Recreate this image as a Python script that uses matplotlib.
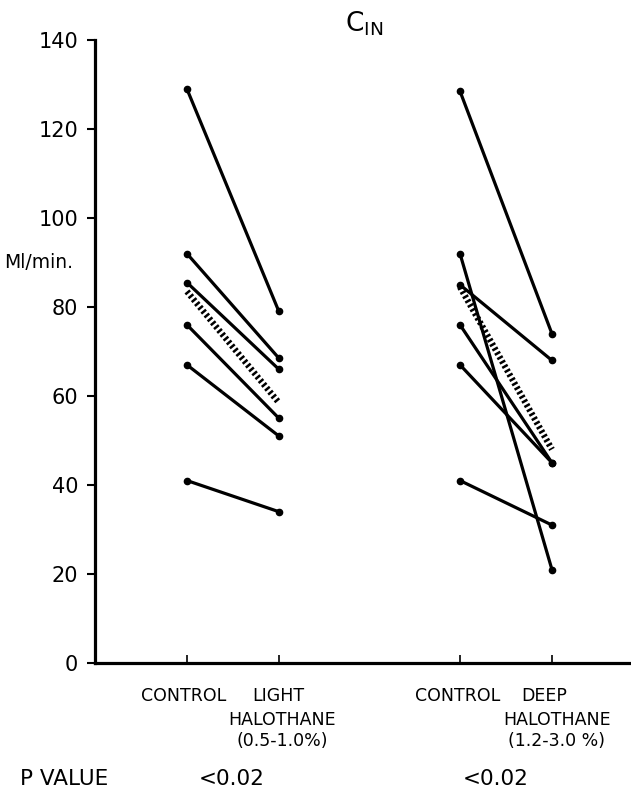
import matplotlib.pyplot as plt

# values (Ml/min)
light_control = [129, 92, 85.5, 76, 67, 41]
light_halo = [79, 68.5, 66, 55, 51, 34]
light_mean = [83.5, 58.5]

deep_control = [128.5, 92, 85, 76, 67, 41]
deep_halo = [74, 21, 68, 45, 45, 31]
deep_mean = [84.5, 48]

x_light = [1, 2]
x_deep = [3.97, 4.97]

W, H = 631, 792
fig = plt.figure(figsize=(W / 100, H / 100), dpi=100)
ax = fig.add_axes([95 / W, 1 - 663 / H, 1 - 95 / W, (663 - 40) / H])


def px(x, y):
    return x / W, 1 - y / H


for c, h in zip(light_control, light_halo):
    ax.plot(x_light, [c, h], color="black", lw=2.3, marker="o", ms=4.5, solid_capstyle="round")
for c, h in zip(deep_control, deep_halo):
    ax.plot(x_deep, [c, h], color="black", lw=2.3, marker="o", ms=4.5, solid_capstyle="round")

ax.plot(x_light, light_mean, color="black", lw=4.5, dashes=(0.4, 0.4), dash_capstyle="butt")
ax.plot(x_deep, deep_mean, color="black", lw=4.5, dashes=(0.4, 0.4), dash_capstyle="butt")

ax.set_xlim(0, 5.83)
ax.set_ylim(0, 140)
ax.set_yticks(range(0, 141, 20))
ax.set_xticks(x_light + x_deep)
ax.set_xticklabels([])
ax.tick_params(axis="y", direction="out", length=6, width=1.5, labelsize=15, pad=6)
ax.tick_params(axis="x", direction="in", length=6, width=1.2)
for s in ["top", "right"]:
    ax.spines[s].set_visible(False)
ax.spines["left"].set_linewidth(2.3)
ax.spines["bottom"].set_linewidth(2.3)
ax.patch.set_alpha(0)

fig.text(*px(364, 24), r"C$_{\mathregular{IN}}$", fontsize=19, ha="center", va="center")
fig.text(*px(4, 262), "Ml/min.", fontsize=13.5, ha="left", va="center")

lab = dict(fontsize=12.5, ha="center", va="center")
fig.text(*px(184, 696), "CONTROL", **lab)
fig.text(*px(278, 696), "LIGHT", **lab)
fig.text(*px(282, 720), "HALOTHANE", **lab)
fig.text(*px(282, 741), "(0.5-1.0%)", **lab)
fig.text(*px(458, 696), "CONTROL", **lab)
fig.text(*px(544, 696), "DEEP", **lab)
fig.text(*px(557, 720), "HALOTHANE", **lab)
fig.text(*px(557, 741), "(1.2-3.0 %)", **lab)

fig.text(*px(20, 779), "P VALUE", fontsize=15.5, ha="left", va="center")
fig.text(*px(232, 779), "<0.02", fontsize=15.5, ha="center", va="center")
fig.text(*px(496, 779), "<0.02", fontsize=15.5, ha="center", va="center")

fig.savefig("out.png", dpi=100)
